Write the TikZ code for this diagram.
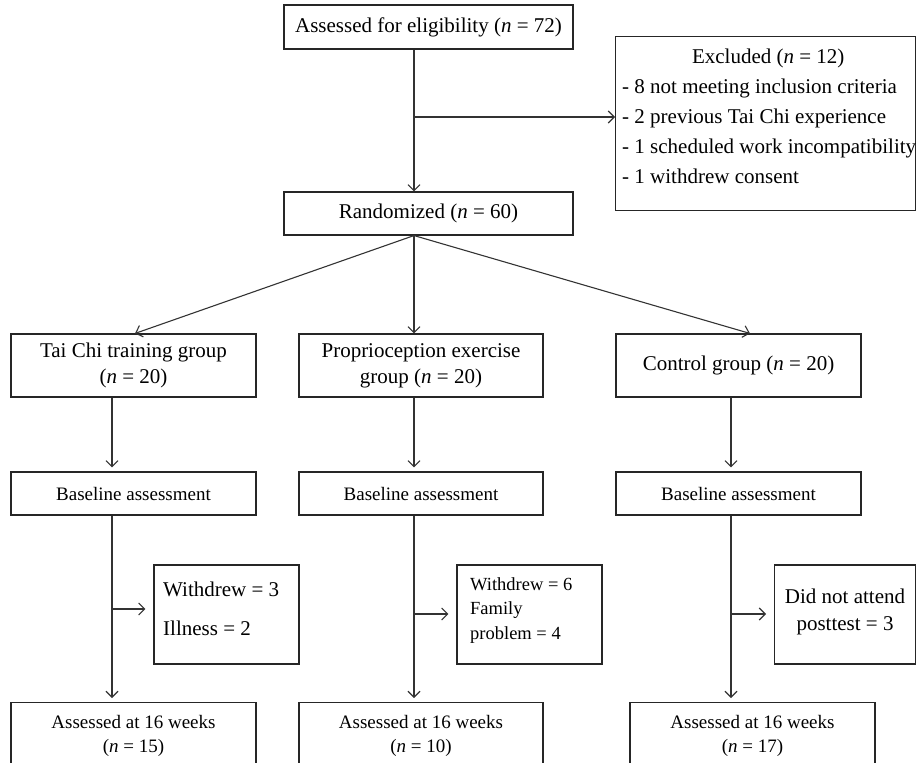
\documentclass[tikz,border=0pt]{standalone}
\usepackage{fontspec}
\setmainfont{Liberation Serif}
\usetikzlibrary{arrows.meta}
\begin{document}
\begin{tikzpicture}[x=1pt,y=-1pt,
  box/.style={draw=black!85, line width=1.1pt, inner sep=0pt, align=center},
  conn/.style={draw=black!80, line width=1.1pt, -{Straight Barb[length=6pt,width=12pt,line width=1.1pt]}},
  txt/.style={inner sep=0pt},
  main/.style={font=\fontsize{21}{26}\selectfont},
  small/.style={font=\fontsize{19}{24}\selectfont}]
\path[use as bounding box] (0,0) rectangle (916,763);
% top part
\node[box,main,minimum width=289pt,minimum height=44pt] (elig) at (428.5,27) {Assessed for eligibility (\textit{n} = 72)};
\node[box,main,minimum width=289pt,minimum height=43pt] (rand) at (428.5,213.5) {Randomized (\textit{n} = 60)};
\node[box,minimum width=300pt,minimum height=174pt,anchor=north west] (excl) at (615,36) {};
\node[txt,anchor=north west,align=left,font=\fontsize{21}{30}\selectfont] (excltxt) at (622,48.4)
  {\makebox[292pt][c]{Excluded (\textit{n} = 12)}\\
   - 8 not meeting inclusion criteria\\
   - 2 previous Tai Chi experience\\
   - 1 scheduled work incompatibility\\
   - 1 withdrew consent};
\coordinate (spine) at (414,0);
\coordinate (exj) at (414,117);
\draw[conn] (elig.south -| spine) -- (rand.north -| spine);
\draw[conn] (exj) -- (excl.west |- exj);
% groups
\node[box,main,minimum width=245pt,minimum height=63pt] (tai) at (133.5,365.5) {Tai Chi training group\\(\textit{n} = 20)};
\node[box,main,minimum width=244pt,minimum height=63pt] (prop) at (421,365.5) {Proprioception exercise\\group (\textit{n} = 20)};
\node[box,main,minimum width=245pt,minimum height=63pt] (ctrl) at (738.5,365.5) {Control group (\textit{n} = 20)};
\coordinate (ta) at (135,0);
\coordinate (ca) at (750,0);
\draw[conn] (rand.south -| spine) -- (tai.north -| ta);
\draw[conn] (rand.south -| spine) -- (prop.north -| spine);
\draw[conn] (rand.south -| spine) -- (ctrl.north -| ca);
% baseline
\node[box,small,minimum width=245pt,minimum height=43pt] (base1) at (133.5,493.5) {Baseline assessment};
\node[box,small,minimum width=244pt,minimum height=43pt] (base2) at (421,493.5) {Baseline assessment};
\node[box,small,minimum width=245pt,minimum height=43pt] (base3) at (738.5,493.5) {Baseline assessment};
\coordinate (c1) at (112,0);
\coordinate (c3) at (731,0);
\draw[conn,shorten >=4pt] (tai.south -| c1) -- (base1.north -| c1);
\draw[conn,shorten >=4pt] (prop.south -| spine) -- (base2.north -| spine);
\draw[conn,shorten >=4pt] (ctrl.south -| c3) -- (base3.north -| c3);
% withdrawals
\node[box,minimum width=145pt,minimum height=99pt] (w1) at (226.5,614.5) {};
\node[box,minimum width=145pt,minimum height=99pt] (w2) at (529.5,614.5) {};
\node[box,minimum width=141pt,minimum height=99pt,anchor=west] (w3) at (774,614.5) {};
\node[txt,anchor=north west,align=left,font=\fontsize{21}{39}\selectfont] (w1t) at (163,581.4) {Withdrew = 3\\Illness = 2};
\node[txt,anchor=north west,align=left,font=\fontsize{18.5}{24.5}\selectfont] (w2t) at (470,577.4) {Withdrew = 6\\Family\\problem = 4};
\node[txt,anchor=north,align=center,font=\fontsize{21}{27}\selectfont] (w3t) at (845,588.7) {Did not attend\\posttest = 3};
% finals
\node[box,small,minimum width=245pt,inner ysep=13pt,anchor=north] (f1) at (133.5,702) {Assessed at 16 weeks\\(\textit{n} = 15)};
\node[box,small,minimum width=244pt,inner ysep=13pt,anchor=north] (f2) at (421,702) {Assessed at 16 weeks\\(\textit{n} = 10)};
\node[box,small,minimum width=245pt,inner ysep=13pt,anchor=north] (f3) at (752.5,702) {Assessed at 16 weeks\\(\textit{n} = 17)};
\coordinate (j1) at (112,609);
\coordinate (j2) at (414,614);
\coordinate (j3) at (731,614);
\draw[conn,shorten >=4pt] (base1.south -| c1) -- (f1.north -| c1);
\draw[conn,shorten >=4pt] (base2.south -| spine) -- (f2.north -| spine);
\draw[conn,shorten >=4pt] (base3.south -| c3) -- (f3.north -| c3);
\draw[conn,shorten >=8pt] (j1) -- (w1.west |- j1);
\draw[conn,shorten >=8pt] (j2) -- (w2.west |- j2);
\draw[conn,shorten >=8pt] (j3) -- (w3.west |- j3);
\end{tikzpicture}
\end{document}
